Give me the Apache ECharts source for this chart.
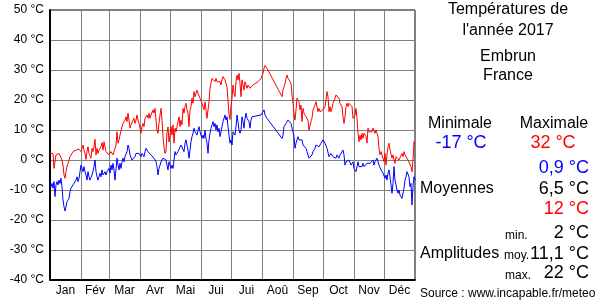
<!DOCTYPE html>
<html><head><meta charset="utf-8">
<script src="https://cdn.jsdelivr.net/npm/echarts@6/dist/echarts.min.js"></script>
<style>html,body{margin:0;padding:0;background:#fff}#c{width:600px;height:300px}</style>
</head><body><div id="c"></div>
<script>
const monthNames = ["Jan","Fév","Mar","Avr","Mai","Jui","Jui","Aoû","Sep","Oct","Nov","Déc"];
const monthStarts = [0,31,59,90,120,151,181,212,243,273,304,334,365];
const yTicks = [-40,-30,-20,-10,0,10,20,30,40,50];

const tMax = [[0,2.2],[1,2.2],[2,1.7],[3,2.2],[4,-2.8],[6,1.7],[7,2.2],[8,1.1],[9,2.2],[10,2],[11,2.8],[12,0],[13,-1.7],[14,-5],[15,-6.1],[16,-3.9],[17,-2.2],[18,-1.1],[19,0],[20,1.1],[21,1.4],[22,1.7],[23,2.8],[24,2.2],[25,2.4],[26,3.3],[27,2.8],[28,3.1],[29,3.6],[30,3],[31,2.8],[32,3.9],[33,5],[34,3.3],[35,2.2],[36,0.2],[37,2.8],[38,4.4],[39,2.2],[40,1.5],[41,0.6],[42,3.9],[43,2.8],[44,4.4],[45,6.9],[46,1.7],[47,3.9],[48,2.2],[49,3.3],[50,3.9],[51,4.4],[52,5.8],[53,3.3],[54,6.1],[55,4.4],[56,2.8],[57,2.2],[58,2.8],[59,1.7],[60,1.7],[61,2.8],[62,2.2],[63,1.7],[64,2.2],[65,1.1],[66,5],[67,9.4],[68,5.6],[69,6.7],[70,8.3],[71,8.9],[72,11.1],[73,12.2],[74,11.7],[75,13.3],[76,14.4],[77,12.8],[78,15.6],[79,13.3],[80,10.6],[81,11.7],[82,11.1],[83,12.2],[84,13.9],[85,12.2],[86,13.3],[87,15],[88,13.3],[89,12.2],[90,10.6],[91,8.9],[92,11.1],[93,12.2],[94,11.1],[95,13.9],[96,14.4],[97,15],[98,13.9],[99,15.6],[100,13.9],[101,15],[102,14.4],[103,16.7],[104,15.6],[105,17.2],[106,13.3],[107,10],[108,8.9],[109,12.2],[110,15],[111,17.2],[112,13.3],[113,7.8],[114,4.4],[115,2.2],[116,3],[117,9],[118,11],[119,6],[120,8.3],[121,11.1],[122,8.3],[123,11.7],[124,5.6],[125,10.6],[126,9.4],[127,11.1],[128,11.7],[129,14.4],[130,11.1],[131,13.3],[132,11.7],[133,17.2],[134,15.6],[135,17.8],[136,18.9],[137,16.7],[138,15.6],[139,11.1],[140,16.7],[141,17.8],[142,20.6],[143,18.9],[144,22.8],[145,21.1],[146,21.7],[147,23.3],[148,22.2],[149,22.8],[150,20.6],[151,20],[152,18.9],[153,19.4],[154,16.7],[155,19.4],[156,16.7],[157,13.9],[158,14.4],[159,19.4],[160,23.9],[161,25.6],[162,27.2],[163,26.7],[164,27.8],[165,26.1],[166,27.2],[167,26.1],[168,25.6],[169,26.7],[170,26.1],[171,25],[172,26.7],[173,27.8],[174,28.3],[175,26.7],[176,26.1],[177,24.4],[178,20],[179,15],[180,13.5],[181,18.3],[182,20.6],[183,25],[184,22.2],[185,21.1],[186,26.1],[187,28.3],[188,26.7],[189,28.9],[190,25.6],[191,21.1],[192,26.7],[193,27.2],[194,23.3],[195,26.1],[196,25.6],[197,23.9],[198,25],[199,24.4],[200,23.9],[201,24.4],[203,25],[205,25.6],[208,26.1],[211,27.2],[213,28.9],[214,30.6],[215,31.5],[216,32],[217,30.6],[232,21.1],[233,23.3],[234,24.4],[235,25.5],[236,27.2],[237,28.3],[238,27.2],[239,27.8],[240,26.7],[241,25.6],[242,21.7],[243,18.9],[244,15.6],[245,13.3],[246,16.7],[247,20.6],[248,20],[249,19.4],[250,16.7],[251,18.3],[252,12.8],[253,17.2],[254,15.6],[255,16.1],[256,14.4],[257,15],[258,13.3],[259,10],[260,10.6],[261,12.8],[262,13.9],[263,16.7],[264,16.1],[265,18.3],[266,19.4],[267,17.8],[268,16.1],[269,17.2],[270,16.1],[271,16.7],[272,16.1],[273,16.7],[274,16.1],[275,17.8],[276,20],[277,22.8],[278,21.1],[279,16.1],[280,17.8],[281,16.1],[282,17.2],[283,18.9],[284,19.4],[285,20.6],[286,21.7],[287,21.7],[288,21.7],[289,20.6],[290,18.9],[291,19.4],[292,17.8],[293,14.4],[294,12.2],[295,14.4],[296,17.8],[297,18.9],[298,17.8],[299,18.9],[300,18.3],[301,18.3],[302,17.8],[303,13.9],[304,13.9],[305,15],[306,17.2],[307,13.9],[308,8.9],[309,6.1],[310,8.3],[311,6.7],[312,8.9],[313,7.2],[314,8.9],[315,9.4],[316,7.8],[317,5.6],[318,10.6],[319,9.4],[320,8.9],[321,10],[322,9.4],[323,10.6],[324,10],[325,8.9],[326,10],[327,10.6],[328,7.8],[329,3.9],[330,1.7],[331,2.8],[332,2.2],[333,0.6],[334,-0.6],[335,2.2],[336,-1.7],[337,1.7],[338,4.4],[339,5.6],[340,3.3],[341,3.9],[342,0.6],[343,1.7],[344,0],[345,-1.1],[346,1.1],[347,1.7],[348,1.1],[349,0],[350,-0.6],[351,0.6],[352,2.2],[353,1.1],[354,2.8],[355,1.7],[356,2.2],[357,1.1],[358,0],[359,0.6],[360,-0.6],[361,-2.2],[362,-3.9],[363,0],[364,6.1],[365,5]];

const tMin = [[0,-7.2],[1,-8.9],[2,-7.8],[3,-9.4],[4,-7.2],[5,-12.2],[6,-8.3],[7,-7.2],[8,-8.3],[9,-6.7],[10,-7.8],[11,-6.1],[12,-8.9],[13,-13.3],[14,-15.6],[15,-17],[16,-15.6],[17,-13.9],[18,-13.3],[19,-12.8],[20,-10.6],[21,-9.4],[22,-10],[23,-8.3],[24,-8.6],[25,-8.9],[26,-6.7],[27,-5.6],[28,-7.2],[29,-6.1],[30,-3.9],[31,-1.7],[32,-2.8],[33,-3.9],[34,-2.2],[35,-3.9],[36,-5],[37,-6.7],[38,-3.9],[39,-5.6],[40,-6.7],[41,-5.8],[42,-5],[43,-3.9],[44,-2.2],[45,0],[46,-3.9],[47,-5.6],[48,-6.7],[49,-6.1],[50,-4.4],[51,-5.6],[52,-3.3],[53,-5],[54,-4.4],[55,-3.9],[56,-5],[57,-3.9],[58,-3.9],[59,-2.8],[60,-4.4],[61,-1.7],[62,-3.3],[63,-1.1],[64,-3.3],[65,-6.7],[66,-7.2],[67,0.6],[68,-1.7],[69,-3.3],[70,-1.1],[71,-2.8],[72,-0.6],[73,0.6],[74,-0.6],[75,1.1],[76,1.7],[77,2.8],[78,5],[79,3.9],[80,1.7],[81,2.2],[82,0],[83,0.6],[84,-0.6],[85,1.1],[86,2.2],[87,2.8],[88,2.8],[89,2.2],[90,1.7],[91,1.1],[92,2.2],[93,1.7],[94,1.1],[95,2.8],[96,3.9],[97,3.9],[98,2.8],[99,3.3],[100,2.8],[101,1.7],[102,2.2],[103,1.1],[104,0.6],[105,1.1],[106,-0.6],[107,-2.2],[108,-5],[109,-2.8],[110,-1.7],[111,-0.6],[112,0],[113,0.6],[114,1.1],[115,0.6],[116,0],[117,-1.7],[118,-3.3],[119,-0.6],[120,-1.7],[121,-2.8],[122,-1.7],[123,-2.8],[124,0],[125,2.8],[126,1.7],[127,2.2],[128,2.8],[129,2.2],[130,3.3],[131,5],[132,5.6],[133,4.4],[134,2.8],[135,5.6],[136,6.7],[137,6.1],[138,3.3],[139,0.6],[140,3.3],[141,6.1],[142,7.8],[143,8.9],[144,10.6],[145,9.4],[146,10],[147,8.3],[148,10],[149,11.1],[150,9.4],[151,8.9],[152,7.2],[153,8.3],[154,7.2],[155,10],[156,7.2],[157,5.6],[158,2.2],[159,6.7],[160,8.9],[161,10.6],[162,11.1],[163,12.8],[164,11.1],[165,12.2],[166,10],[167,11.7],[168,9.4],[169,10.6],[170,7.8],[171,9.4],[172,11.1],[173,12.8],[174,13.3],[175,15],[176,13.3],[177,14.4],[178,11.1],[179,8.3],[180,5.6],[181,6.7],[182,5],[183,9.4],[184,10],[185,8.3],[186,11.1],[187,15],[188,12.8],[189,10],[190,8.9],[191,10],[192,14.4],[193,12.8],[194,10.6],[195,13.9],[196,15.6],[197,13.9],[198,13.9],[199,12.8],[200,10.6],[201,13.3],[202,14.4],[204,14.8],[208,14.8],[211,15],[213,15.6],[214,16.7],[215,15],[216,14.4],[217,13.9],[232,7.2],[233,8.3],[234,11.1],[235,11.7],[236,12.2],[237,12.8],[238,13.3],[239,13.9],[240,13.3],[241,12.2],[242,10.6],[243,9.4],[244,7.8],[245,3.9],[246,5.6],[247,6.7],[248,7.8],[249,6.7],[250,7.2],[251,6.1],[252,6.7],[253,5],[254,5.6],[255,4.4],[256,3.9],[257,2.8],[258,2.2],[259,0.6],[260,1.1],[261,0],[262,1.7],[263,2.8],[264,2.2],[265,3.9],[266,5],[267,4.4],[268,5.6],[269,4.4],[270,5],[271,5.6],[272,6.1],[273,6.7],[274,6.7],[275,5.6],[276,5],[277,3.9],[278,3.9],[279,1.1],[280,0.6],[281,2.2],[282,1.7],[283,1.1],[284,1.7],[285,1.1],[286,0.6],[287,1.7],[288,1.1],[289,0.6],[290,1.7],[291,1.1],[292,2.2],[293,3.3],[294,1.7],[295,-1.7],[296,-0.6],[297,0],[298,-0.6],[299,0],[300,-0.6],[301,-1.7],[302,-1.1],[303,-0.6],[304,-2.8],[305,-3.3],[306,-3.9],[307,-2.2],[308,-0.6],[309,-2.2],[310,-2.8],[311,-1.7],[312,-2.2],[313,-1.1],[314,-2.2],[315,-1.7],[316,-2.8],[317,-1.1],[318,-1.7],[319,-0.6],[320,-1.1],[321,-0.6],[322,-1.1],[323,0],[324,-1.7],[325,-0.6],[326,0],[327,0.6],[328,-0.6],[329,-1.7],[330,-2.2],[331,-3.3],[332,-3.9],[333,-4.4],[334,-5],[335,-6.1],[336,-5],[337,-6.7],[338,-4.4],[339,-3.3],[340,-5.6],[341,-8.3],[342,-11.1],[343,-7.8],[344,-2.2],[345,-6.7],[346,-8.3],[347,-10],[348,-11.1],[349,-10],[350,-11.7],[351,-12.2],[352,-12.8],[353,-13.3],[354,-9.4],[355,-6.7],[356,-5.6],[357,-3.9],[358,-3.3],[359,-5.6],[360,-8.9],[361,-7.8],[362,-15],[363,-8.9],[364,-5.6],[365,-6.7]];

const titleLines = ["Températures de","l'année 2017"];
const place = ["Embrun","France"];
const stats = {absMin:"-17 °C", absMax:"32 °C", meanMin:"0,9 °C", mean:"6,5 °C", meanMax:"12 °C", ampMin:"2 °C", ampMoy:"11,1 °C", ampMax:"22 °C"};

const monthMids = monthNames.map((m,i)=> (monthStarts[i]+monthStarts[i+1])/2);
const FF = '"Liberation Sans", Arial, sans-serif';
function txt(t, x, y, size, color, align){
  return {type:'text', x:x, y:y, silent:true, style:{text:t, fill:color||'#000', font: size+'px '+FF, align:align||'center', verticalAlign:'middle'}};
}
const chart = echarts.init(document.getElementById('c'), null, {renderer:'canvas'});
chart.setOption({
  animation:false,
  backgroundColor:'#fff',
  grid:{left:50, right:185, top:10, bottom:20, show:true, borderColor:'#000', borderWidth:1},
  xAxis:{type:'value', min:0, max:365,
    axisLine:{show:true, onZero:false, lineStyle:{color:'#000', width:2}},
    axisTick:{show:false, customValues: monthStarts},
    splitLine:{show:true, lineStyle:{color:'#808080', width:1}},
    axisLabel:{customValues: monthMids, color:'#000', fontSize:12, fontFamily:FF, margin:5,
      formatter:function(v){ for(let i=0;i<12;i++){ if(v>=monthStarts[i] && v<monthStarts[i+1]) return monthNames[i]; } return ''; }}
  },
  yAxis:{type:'value', min:-40, max:50, interval:10,
    axisLine:{show:true, onZero:false, lineStyle:{color:'#000', width:2}},
    axisTick:{show:false},
    splitLine:{show:true, lineStyle:{color:'#808080', width:1}},
    axisLabel:{color:'#000', fontSize:12, fontFamily:FF, margin:6, formatter:'{value} °C'}
  },
  series:[
    {type:'line', data:tMax, showSymbol:false, symbol:'none', lineStyle:{color:'#ff0000', width:1}, z:3},
    {type:'line', data:tMin, showSymbol:false, symbol:'none', lineStyle:{color:'#0000ff', width:1}, z:3}
  ],
  graphic:[
    txt(titleLines[0], 508, 10, 16),
    txt(titleLines[1], 508, 31, 16),
    txt(place[0], 508, 57, 16),
    txt(place[1], 508, 76, 16),
    txt("Minimale", 460, 124, 16),
    txt("Maximale", 554, 124, 16),
    txt(stats.absMin, 461, 143, 18, '#0000ff'),
    txt(stats.absMax, 553, 143, 18, '#ff0000'),
    txt(stats.meanMin, 589, 168, 18, '#0000ff', 'right'),
    txt("Moyennes", 420, 189, 16, '#000', 'left'),
    txt(stats.mean, 589, 189, 18, '#000', 'right'),
    txt(stats.meanMax, 589, 209, 18, '#ff0000', 'right'),
    txt("min.", 505, 236, 12, '#000', 'left'),
    txt(stats.ampMin, 589, 233, 18, '#000', 'right'),
    txt("Amplitudes", 420, 254, 16, '#000', 'left'),
    txt("moy.", 504, 256, 12, '#000', 'left'),
    txt(stats.ampMoy, 589, 254, 18, '#000', 'right'),
    txt("max.", 505, 276, 12, '#000', 'left'),
    txt(stats.ampMax, 589, 273, 18, '#000', 'right'),
    txt("Source : www.incapable.fr/meteo", 420, 294, 12, '#000', 'left')
  ]
});
</script></body></html>
